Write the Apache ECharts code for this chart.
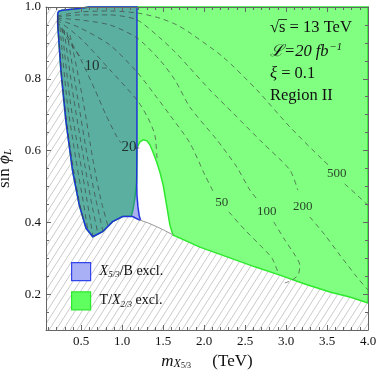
<!DOCTYPE html>
<html>
<head>
<meta charset="utf-8">
<script src="https://cdn.jsdelivr.net/npm/echarts@6/dist/echarts.min.js"></script>
<style>
html, body { margin: 0; padding: 0; background: #fff; }
#main { width: 378px; height: 377px; }
</style>
</head>
<body>
<div id="main"></div>
<script>
// axis ranges and ticks
var xMin = 0.07, xMax = 4.0, yMin = 0.1, yMax = 1.0;
var xTicks = [0.5, 1.0, 1.5, 2.0, 2.5, 3.0, 3.5, 4.0];
var yTicks = [0.2, 0.4, 0.6, 0.8, 1.0];

// region boundaries (m in TeV, sin phi_L)
var blueTop = [[0.213, 0.950], [0.213, 0.982], [0.225, 0.988], [0.265, 0.991], [0.472, 0.996], [0.594, 1.0]];
var blueRight = [[1.18, 1.0], [1.18, 0.607], [1.177, 0.518], [1.18, 0.476], [1.192, 0.443], [1.208, 0.418], [1.222, 0.408]];
var blueLower = [[1.208, 0.407], [1.127, 0.416], [1.005, 0.416], [0.883, 0.402], [0.761, 0.374], [0.640, 0.360],
                 [0.558, 0.384], [0.476, 0.448], [0.396, 0.541], [0.314, 0.680], [0.253, 0.820]];
var greenBottom = [[1.619, 0.365], [1.948, 0.331], [2.314, 0.301], [2.619, 0.276], [2.924, 0.253],
                   [3.229, 0.228], [3.534, 0.206], [3.777, 0.192], [4.0, 0.175]];
var holeEdge = [[1.18, 0.607], [1.216, 0.624], [1.257, 0.630], [1.302, 0.627], [1.338, 0.616], [1.375, 0.596],
                [1.42, 0.569], [1.46, 0.540], [1.50, 0.504], [1.542, 0.448], [1.582, 0.393], [1.619, 0.365]];
var greenInner = [[1.18, 0.607], [1.178, 0.518], [1.155, 0.468], [1.131, 0.435], [1.113, 0.418]];
var hatchEdge = [[1.208, 0.407], [1.32, 0.398], [1.42, 0.388], [1.52, 0.377], [1.619, 0.365]];

// dashed contours (segments split at the labels)
var contours = [
    [[0.204, 0.975], [0.485, 0.986], [0.850, 0.989], [1.192, 0.983], [1.460, 0.969], [1.668, 0.950], [1.826, 0.928],
     [2.229, 0.861], [2.643, 0.769], [3.046, 0.666], [3.448, 0.574], [3.546, 0.554]],
    [[3.716, 0.507], [3.875, 0.474], [3.997, 0.448]],
    [[0.204, 0.972], [0.485, 0.978], [0.850, 0.978], [1.180, 0.964], [1.460, 0.914], [1.643, 0.875], [1.826, 0.830],
     [2.070, 0.769], [2.350, 0.705], [2.716, 0.621], [3.046, 0.546], [3.143, 0.490]],
    [[3.290, 0.415], [3.473, 0.365], [3.656, 0.309], [3.863, 0.248], [3.997, 0.212]],
    [[0.204, 0.969], [0.485, 0.964], [0.850, 0.950], [1.180, 0.914], [1.460, 0.852], [1.643, 0.797], [1.826, 0.721],
     [2.155, 0.630], [2.399, 0.554], [2.558, 0.490], [2.655, 0.462]],
    [[2.850, 0.401], [2.985, 0.351], [3.107, 0.309], [3.168, 0.281], [3.150, 0.255], [3.080, 0.240], [2.985, 0.231]],
    [[0.204, 0.967], [0.485, 0.942], [0.850, 0.894], [1.180, 0.819], [1.399, 0.755], [1.582, 0.699], [1.826, 0.621],
     [2.009, 0.532], [2.119, 0.482]],
    [[2.302, 0.429], [2.497, 0.379], [2.680, 0.337], [2.826, 0.301], [2.899, 0.262]],
    [[0.204, 0.964], [0.485, 0.914], [0.850, 0.825], [1.180, 0.741], [1.314, 0.691], [1.399, 0.643], [1.424, 0.579]],
    [[0.204, 0.961], [0.363, 0.908], [0.509, 0.847], [0.668, 0.769], [0.802, 0.699], [0.924, 0.643], [0.985, 0.621]],
    [[1.155, 0.607], [1.21, 0.607]],
    [[0.204, 0.958], [0.302, 0.922], [0.424, 0.880], [0.521, 0.852]],
    [[0.753, 0.830], [0.814, 0.830]],
    [[0.216, 0.947], [0.290, 0.741], [0.387, 0.574], [0.472, 0.462], [0.533, 0.401]],
    [[0.241, 0.944], [0.326, 0.741], [0.436, 0.574], [0.521, 0.462], [0.582, 0.376]],
    [[0.265, 0.942], [0.363, 0.741], [0.485, 0.574], [0.570, 0.462], [0.643, 0.362]],
    [[0.290, 0.936], [0.411, 0.741], [0.533, 0.574], [0.619, 0.462], [0.704, 0.368]],
    [[0.326, 0.930], [0.460, 0.741], [0.582, 0.574], [0.680, 0.462], [0.765, 0.376]],
    [[0.363, 0.922], [0.521, 0.741], [0.643, 0.574], [0.741, 0.462], [0.826, 0.390]]
];
var contourLabels = ['10', '20', '50', '100', '200', '500'];
var contourLabelPos = [[0.631, 0.836], [1.082, 0.609], [2.216, 0.454], [2.765, 0.429], [3.204, 0.443], [3.619, 0.535]];

// minor ticks
var xMinor = [], yMinor = [];
for (var i = 1; i < 40; i++) { if (i % 5) xMinor.push(i / 10); }
for (var j = 3; j < 20; j++) { if (j % 4) yMinor.push(j / 20); }

// hatch pattern
var hatch = document.createElement('canvas');
hatch.width = 7; hatch.height = 11;
var hc = hatch.getContext('2d');
hc.strokeStyle = '#c4c4c4';
hc.lineWidth = 0.9;
for (var k = -1; k <= 1; k++) {
    hc.beginPath();
    hc.moveTo(k * 7, 11);
    hc.lineTo(k * 7 + 7, 0);
    hc.stroke();
}

var serif = 'Liberation Serif';
var chart = echarts.init(document.getElementById('main'));

function polygon(name, pts, style, z) {
    return {
        type: 'custom', name: name, z: z, silent: true, animation: false,
        itemStyle: { color: style.fill },
        data: pts,
        renderItem: function (params, api) {
            if (params.dataIndex > 0) return null;
            return {
                type: 'polygon',
                shape: { points: pts.map(function (p) { return api.coord(p); }) },
                style: style
            };
        }
    };
}

function xAxisDef(pos, ticks, len, labels) {
    return {
        type: 'value', min: xMin, max: xMax, position: pos, z: 10,
        name: labels ? '{i|m}{x|X}{s|5/3}{r|     (TeV)}' : '',
        nameLocation: 'middle', nameGap: 22,
        nameTextStyle: {
            rich: {
                i: { fontFamily: serif, fontStyle: 'italic', fontSize: 17, color: '#111' },
                x: { fontFamily: serif, fontStyle: 'italic', fontSize: 12, color: '#111', padding: [5, 0, 0, 0] },
                s: { fontFamily: serif, fontSize: 8, color: '#111', padding: [10, 0, 0, 0] },
                r: { fontFamily: serif, fontSize: 17, color: '#111' }
            }
        },
        axisLine: { show: len > 4, lineStyle: { color: '#666', width: 1 } },
        axisTick: { show: true, inside: true, length: len, customValues: ticks, lineStyle: { color: '#666' } },
        axisLabel: {
            show: !!labels, customValues: xTicks, margin: 5,
            fontFamily: serif, fontSize: 13, color: '#111',
            formatter: function (v) { return v.toFixed(1); }
        },
        splitLine: { show: false }
    };
}

function yAxisDef(pos, ticks, len, labels) {
    return {
        type: 'value', min: yMin, max: yMax, position: pos, z: 10,
        name: labels ? '{r|sin }{i|ϕ}{s|L}' : '',
        nameLocation: 'middle', nameGap: 26, nameRotate: 90,
        nameTextStyle: {
            rich: {
                r: { fontFamily: serif, fontSize: 17, color: '#111' },
                i: { fontFamily: serif, fontStyle: 'italic', fontSize: 17, color: '#111' },
                s: { fontFamily: serif, fontStyle: 'italic', fontSize: 11, color: '#111', padding: [8, 0, 0, 0] }
            }
        },
        axisLine: { show: len > 4, lineStyle: { color: '#666', width: 1 } },
        axisTick: { show: true, inside: true, length: len, customValues: ticks, lineStyle: { color: '#666' } },
        axisLabel: {
            show: !!labels, customValues: yTicks, margin: 5,
            fontFamily: serif, fontSize: 13, color: '#111',
            formatter: function (v) { return v.toFixed(1); }
        },
        splitLine: { show: false }
    };
}

var bluePoly = blueTop.concat(blueRight, blueLower);
var greenPoly = blueTop.concat([[4.0, 1.0]], greenBottom.slice().reverse(), holeEdge.slice().reverse().slice(1),
    greenInner.slice(1), blueLower.slice(2));
var hatchPoly = [[xMin, yMin], [xMin, yMax]].concat(blueTop.slice().reverse(), blueLower.slice().reverse(),
    hatchEdge.slice(1), greenBottom.slice(1), [[4.0, yMin]]);

var series = [
    polygon('hatch', hatchPoly, { fill: { image: hatch, repeat: 'repeat' } }, 1),
    polygon('T/X23', greenPoly, { fill: '#80ff80', stroke: '#2ee82e', lineWidth: 1.5 }, 2),
    polygon('X53/B', bluePoly, { fill: 'rgba(25,39,214,0.37)', stroke: '#2233dd', lineWidth: 1.5 }, 3),
    {
        type: 'line', data: hatchEdge, symbol: 'none', silent: true, animation: false, z: 3,
        lineStyle: { color: '#999', width: 1 }
    }
];
contours.forEach(function (seg) {
    series.push({
        type: 'line', data: seg, symbol: 'none', silent: true, animation: false, z: 4, smooth: 0.25,
        lineStyle: { color: 'rgba(60,60,60,0.65)', width: 1, type: [5, 4] }
    });
});
series.push({
    type: 'scatter', symbolSize: 0, silent: true, animation: false, z: 5,
    data: contourLabels.map(function (t, n) { return { name: t, value: contourLabelPos[n] }; }),
    label: {
        show: true, position: 'inside', color: '#111', fontFamily: serif,
        formatter: function (p) { return p.name; },
        fontSize: 13
    },
    labelLayout: function (p) { return { fontSize: Number(p.text) < 50 ? 15 : 13 }; }
});

var textFont = '16.5px "Liberation Serif", "DejaVu Serif"';
var textItalic = 'italic 16.5px "Liberation Serif", "DejaVu Serif"';

var option = {
    backgroundColor: '#fff',
    animation: false,
    grid: { left: 46, right: 10, top: 7, bottom: 47, outerBoundsMode: 'none', containLabel: false },
    xAxis: [
        xAxisDef('bottom', xTicks, 5, true),
        xAxisDef('top', xTicks, 5, false),
        xAxisDef('bottom', xMinor, 3, false),
        xAxisDef('top', xMinor, 3, false)
    ],
    yAxis: [
        yAxisDef('left', yTicks, 5, true),
        yAxisDef('right', yTicks, 5, false),
        yAxisDef('left', yMinor, 3, false),
        yAxisDef('right', yMinor, 3, false)
    ],
    legend: {
        left: 66, top: 257, orient: 'vertical', icon: 'rect',
        itemWidth: 19, itemHeight: 18, itemGap: 10, selectedMode: false,
        data: [
            { name: 'X53/B', itemStyle: { color: '#aab0f6', borderColor: '#3344ee', borderWidth: 1.2 } },
            { name: 'T/X23', itemStyle: { color: '#5eff5e', borderColor: '#2ee82e', borderWidth: 1.2 } }
        ],
        formatter: function (n) {
            return n === 'X53/B' ? '{i|X}{s|5/3}{r|/B excl.}' : '{r|T/}{i|X}{s|2/3}{r| excl.}';
        },
        textStyle: {
            padding: [0, 0, 0, 4],
            rich: {
                i: { fontFamily: serif, fontStyle: 'italic', fontSize: 14, color: '#111' },
                s: { fontFamily: serif, fontStyle: 'italic', fontSize: 9, color: '#111', padding: [7, 0, 0, 0] },
                r: { fontFamily: serif, fontSize: 14, color: '#111' }
            }
        }
    },
    graphic: {
        elements: [
            { type: 'text', z: 50, left: 270, top: 19, style: { text: '√s = 13 TeV', font: textFont, fill: '#111' } },
            { type: 'line', z: 50, shape: { x1: 279, y1: 19.5, x2: 287, y2: 19.5 }, style: { stroke: '#111', lineWidth: 0.8 } },
            {
                type: 'text', z: 50, left: 270, top: 42,
                style: {
                    text: '{i|ℒ=20 fb}{u|−1}',
                    rich: {
                        i: { font: textItalic, fill: '#111' },
                        u: { font: 'italic 10.5px "Liberation Serif"', fill: '#111', padding: [0, 0, 8, 1] }
                    }
                }
            },
            { type: 'text', z: 50, left: 270, top: 65, style: { text: '{i|ξ} = 0.1', rich: { i: { font: textItalic, fill: '#111' } }, font: textFont, fill: '#111' } },
            { type: 'text', z: 50, left: 270, top: 87, style: { text: 'Region II', font: textFont, fill: '#111' } }
        ]
    },
    series: series
};
chart.setOption(option);
</script>
</body>
</html>
